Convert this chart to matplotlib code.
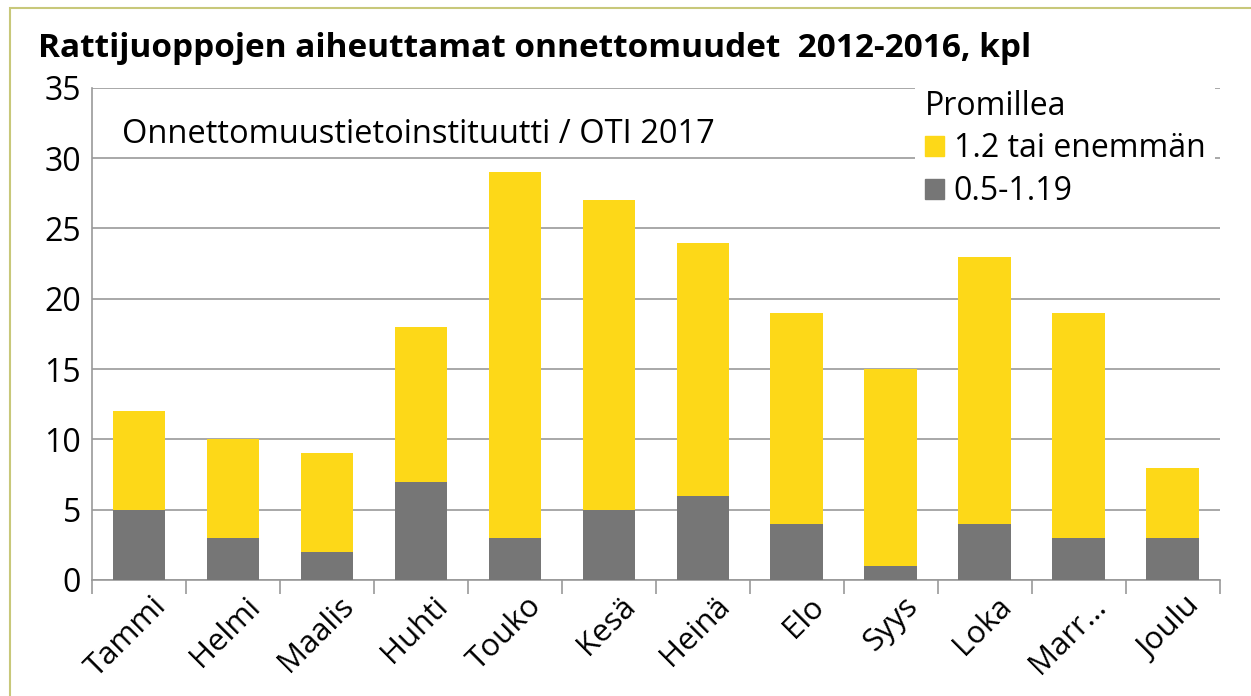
import matplotlib.pyplot as plt
import matplotlib.transforms as mtrans
import numpy as np
from matplotlib.patches import Patch, Rectangle

months = ["Tammi", "Helmi", "Maalis", "Huhti", "Touko", "Kesä",
          "Heinä", "Elo", "Syys", "Loka", "Marr…", "Joulu"]
low = [5, 3, 2, 7, 3, 5, 6, 4, 1, 4, 3, 3]          # 0.5-1.19
high = [7, 7, 7, 11, 26, 22, 18, 15, 14, 19, 16, 5]  # 1.2 tai enemmän
yticks = [0, 5, 10, 15, 20, 25, 30, 35]

yellow = "#FDD818"
grey = "#767676"
axc = "#999999"

plt.rcParams['font.family'] = ['Open Sans', 'DejaVu Sans']

fig = plt.figure(figsize=(12.51, 6.96), dpi=100)
fig.patches.append(Rectangle((0.008, -0.02), 1.1, 1.0085, transform=fig.transFigure,
                             fill=False, edgecolor="#C8C87A", linewidth=1.5))
ax = fig.add_axes([0.0735, 0.1667, 0.9015, 0.707])

x = np.arange(len(months))
ax.bar(x, low, width=0.56, color=grey, zorder=3, label="0.5-1.19")
ax.bar(x, high, width=0.56, bottom=low, color=yellow, zorder=3, label="1.2 tai enemmän")

ax.set_xlim(-0.5, len(months) - 0.5)
ax.set_ylim(0, 35)
ax.set_yticks(yticks)
ax.set_yticklabels([str(v) for v in yticks], fontsize=23)
ax.yaxis.grid(True, color=axc, linewidth=1.2, zorder=0)
ax.tick_params(axis='y', length=0, pad=8)

ax.set_xticks(x)
ax.set_xticklabels(months, fontsize=22.5, rotation=45, ha='right', rotation_mode='anchor')
ax.set_xticks(np.arange(-0.5, len(months)), minor=True)
ax.tick_params(axis='x', which='major', length=0, pad=8)
ax.tick_params(axis='x', which='minor', length=10, width=1.2, color=axc)
shift = mtrans.ScaledTranslation(12 / 100, 0, fig.dpi_scale_trans)
for lab in ax.get_xticklabels():
    lab.set_transform(lab.get_transform() + shift)

for s in ['top', 'right']:
    ax.spines[s].set_visible(False)
for s in ['left', 'bottom']:
    ax.spines[s].set_color(axc)
    ax.spines[s].set_linewidth(1.2)

fig.text(0.03, 0.931, "Rattijuoppojen aiheuttamat onnettomuudet  2012-2016, kpl",
         fontsize=24, fontweight='bold', va='center')
ax.text(0.027, 0.905, "Onnettomuustietoinstituutti / OTI 2017", transform=ax.transAxes,
        fontsize=23.5, va='center')

handles = [Patch(color=yellow), Patch(color=grey)]
leg = ax.legend(handles, ["1.2 tai enemmän", "0.5-1.19"], title="Promillea",
                loc='upper left', bbox_to_anchor=(0.716, 1.048), fontsize=23,
                title_fontsize=23, frameon=True, fancybox=False,
                handlelength=0.6, handleheight=0.6, handletextpad=0.3,
                labelspacing=0.3, borderpad=0.3)
leg._legend_box.align = "left"
leg.get_frame().set_edgecolor('none')
leg.get_frame().set_facecolor('white')
leg.get_frame().set_alpha(1)
leg.set_zorder(5)

fig.savefig("out.png", dpi=100)
